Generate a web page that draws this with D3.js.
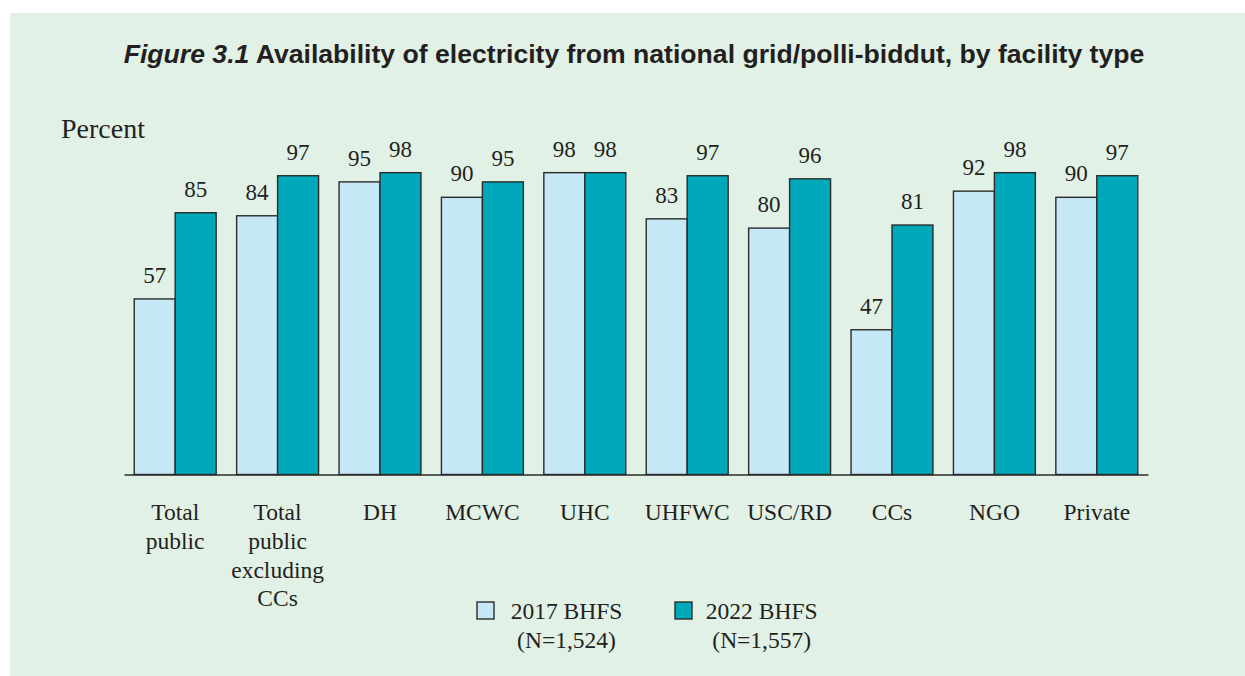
<!DOCTYPE html>
<html>
<head>
<meta charset="utf-8">
<script src="https://cdn.jsdelivr.net/npm/d3@7"></script>
<style>
  html, body { margin: 0; padding: 0; background: #ffffff; }
  svg { display: block; }
</style>
</head>
<body>
<svg id="chart" width="1245" height="676"></svg>
<script>
const categories = ["Total public", "Total public excluding CCs", "DH", "MCWC", "UHC", "UHFWC", "USC/RD", "CCs", "NGO", "Private"];
const categoryLines = [["Total", "public"], ["Total", "public", "excluding", "CCs"], ["DH"], ["MCWC"], ["UHC"], ["UHFWC"], ["USC/RD"], ["CCs"], ["NGO"], ["Private"]];
const series2017 = [57, 84, 95, 90, 98, 83, 80, 47, 92, 90];
const series2022 = [85, 97, 98, 95, 98, 97, 96, 81, 98, 97];
const seriesNames = ["2017 BHFS", "2022 BHFS"];
const seriesN = ["(N=1,524)", "(N=1,557)"];
const seriesColors = ["#c6e8f6", "#00a9ba"];

const svg = d3.select("#chart");
const W = 1245, H = 676;

// panel background
svg.append("rect").attr("x", 10).attr("y", 13).attr("width", W - 10).attr("height", H - 13).attr("fill", "#e1f1e6");

// title
const title = svg.append("text")
  .attr("x", 634).attr("y", 63)
  .attr("text-anchor", "middle")
  .attr("font-family", "'Liberation Sans', Arial, sans-serif")
  .attr("font-weight", "bold")
  .attr("font-size", 26.6)
  .attr("fill", "#231f20");
title.append("tspan").attr("font-style", "italic").text("Figure 3.1");
title.append("tspan").text(" Availability of electricity from national grid/polli-biddut, by facility type");

const serif = "'Liberation Serif', 'Times New Roman', serif";

svg.append("text")
  .attr("x", 61).attr("y", 137.5)
  .attr("font-family", serif).attr("font-size", 28).attr("fill", "#231f20")
  .text("Percent");

const x0 = d3.scaleBand().domain(categories).range([124, 1148]).paddingInner(0.2).paddingOuter(0.1);
const x1 = d3.scaleBand().domain([0, 1]).range([0, x0.bandwidth()]);
const y = d3.scaleLinear().domain([0, 100]).range([474.5, 166.5]);

const data = categories.map((c, i) => ({ cat: c, vals: [series2017[i], series2022[i]] }));

const groups = svg.append("g").selectAll("g").data(data).join("g")
  .attr("transform", d => `translate(${x0(d.cat)},0)`);

groups.selectAll("rect").data(d => d.vals.map((v, k) => ({ v, k }))).join("rect")
  .attr("x", d => x1(d.k))
  .attr("y", d => y(d.v))
  .attr("width", x1.bandwidth())
  .attr("height", d => y(0) - y(d.v))
  .attr("fill", d => seriesColors[d.k])
  .attr("stroke", "#2b2b2b")
  .attr("stroke-width", 1.4);

groups.selectAll("text.val").data(d => d.vals.map((v, k) => ({ v, k }))).join("text")
  .attr("class", "val")
  .attr("x", d => x1(d.k) + x1.bandwidth() / 2)
  .attr("y", d => y(d.v) - 16)
  .attr("text-anchor", "middle")
  .attr("font-family", serif).attr("font-size", 23).attr("fill", "#231f20")
  .text(d => d.v);

// baseline axis
const axis = svg.append("g").attr("transform", `translate(0,${y(0)})`)
  .call(d3.axisBottom(x0).tickSize(0).tickFormat(""));
axis.select(".domain").attr("stroke", "#2b2b2b").attr("stroke-width", 1.5);

// category labels
const labG = svg.append("g");
categories.forEach((c, i) => {
  const t = labG.append("text")
    .attr("x", x0(c) + x0.bandwidth() / 2)
    .attr("y", 520)
    .attr("text-anchor", "middle")
    .attr("font-family", serif).attr("font-size", 23.5).attr("fill", "#231f20");
  categoryLines[i].forEach((ln, j) => {
    t.append("tspan").attr("x", x0(c) + x0.bandwidth() / 2).attr("dy", j === 0 ? 0 : 28.8).text(ln);
  });
});

// legend
const legendX = [477, 675];
const legendTextCenter = [566.5, 761.7];
seriesNames.forEach((s, k) => {
  svg.append("rect").attr("x", legendX[k]).attr("y", 602).attr("width", 17).attr("height", 17)
    .attr("fill", seriesColors[k]).attr("stroke", "#2b2b2b").attr("stroke-width", 1.4);
  svg.append("text").attr("x", legendTextCenter[k]).attr("y", 619)
    .attr("text-anchor", "middle")
    .attr("font-family", serif).attr("font-size", 23.5).attr("fill", "#231f20").text(s);
  svg.append("text").attr("x", legendTextCenter[k]).attr("y", 648)
    .attr("text-anchor", "middle")
    .attr("font-family", serif).attr("font-size", 23.5).attr("fill", "#231f20").text(seriesN[k]);
});
</script>
</body>
</html>
